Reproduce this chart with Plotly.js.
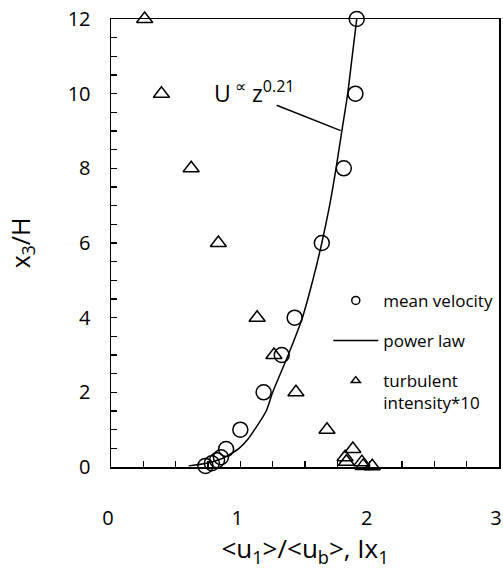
<!DOCTYPE html>
<html><head><meta charset="utf-8">
<script src="https://cdn.plot.ly/plotly-3.0.1.min.js"></script>
<style>html,body{margin:0;padding:0;background:#fff}</style>
</head><body>
<div id="chart" style="width:503px;height:573px"></div>
<script>
// mean velocity <u1>/<ub> vs x3/H
const meanVelX = [0.73, 0.78, 0.82, 0.85, 0.89, 1.00, 1.18, 1.32, 1.42, 1.63, 1.80, 1.89, 1.90];
const meanVelY = [0.03, 0.10, 0.18, 0.26, 0.48, 1, 2, 3, 4, 6, 8, 10, 12];
// turbulent intensity * 10
const turbX = [2.02, 1.95, 1.94, 1.82, 1.81, 1.87, 1.67, 1.43, 1.26, 1.13, 0.83, 0.62, 0.39, 0.26];
const turbY = [0.02, 0.03, 0.13, 0.14, 0.26, 0.48, 1, 2, 3, 4, 6, 8, 10, 12];
// power law curve
const powerX = [0.60, 0.74, 0.84, 0.90, 0.99, 1.06, 1.11, 1.20, 1.25, 1.37, 1.48, 1.56, 1.63, 1.69, 1.74, 1.785, 1.83, 1.865, 1.90];
const powerY = [0.03, 0.1, 0.2, 0.3, 0.5, 0.75, 1, 1.5, 2, 3, 4, 5, 6, 7, 8, 9, 10, 11, 12];
const xTicks = [0, 1, 2, 3];
const yTicks = [0, 2, 4, 6, 8, 10, 12];
const legendNames = ['mean velocity', 'power law', 'turbulent<br>intensity*10'];

const FONT = '"Open Sans", "Liberation Sans", sans-serif';

const traces = [
  {x: powerX, y: powerY, mode: 'lines', line: {color: '#000', width: 1.5, shape: 'spline', smoothing: 0.8},
   showlegend: false, cliponaxis: false, hoverinfo: 'skip'},
  {x: meanVelX, y: meanVelY, mode: 'markers',
   marker: {symbol: 'circle-open', size: 15, color: '#000', line: {width: 1.5}},
   showlegend: false, cliponaxis: false},
  {x: turbX, y: turbY, mode: 'markers',
   marker: {symbol: 'triangle-up-open', size: 14, color: '#000', line: {width: 1.5}},
   showlegend: false, cliponaxis: false},
  // legend entries
  {x: [null], y: [null], mode: 'markers', name: legendNames[0], legendgroup: 'a',
   marker: {symbol: 'circle-open', size: 8, color: '#000', line: {width: 1.5}}},
  {x: [null], y: [null], mode: 'lines', name: legendNames[1], legendgroup: 'b',
   line: {color: '#000', width: 1.5}},
  {x: [null], y: [null], mode: 'markers', name: legendNames[2], legendgroup: 'c',
   marker: {symbol: 'triangle-up-open', size: 8, color: '#000', line: {width: 1.5}}}
];

const layout = {
  width: 503, height: 573,
  margin: {l: 111, r: 4, t: 19, b: 106},
  paper_bgcolor: '#fff', plot_bgcolor: '#fff',
  font: {family: FONT, color: '#000', size: 20},
  showlegend: true,
  legend: {x: 0.56, y: 0.411, xanchor: 'left', yanchor: 'top', bgcolor: 'rgba(0,0,0,0)',
           font: {size: 17, family: FONT, color: '#000'}, itemwidth: 45, tracegroupgap: 15,
           valign: 'top', traceorder: 'grouped'},
  xaxis: {
    range: [0, 3], tickvals: xTicks, ticktext: xTicks.map(String),
    ticks: 'inside', ticklen: 6, tickwidth: 1.3, tickcolor: '#000',
    minor: {dtick: 0.25, ticks: 'inside', ticklen: 6, tickwidth: 1.3, tickcolor: '#000'},
    showline: true, linecolor: '#000', linewidth: 1.5, mirror: true,
    showgrid: false, zeroline: false, ticklabelstandoff: 32, ticklabelshift: -3,
    ticklabeloverflow: 'allow',
    tickfont: {size: 20, family: FONT},
    title: {text: '<u<sub>1</sub>>/<u<sub>b</sub>>, Ix<sub>1</sub>', font: {size: 26, family: FONT}, standoff: 4}
  },
  yaxis: {
    range: [0, 12], tickvals: yTicks, ticktext: yTicks.map(String),
    ticks: 'inside', ticklen: 6, tickwidth: 1.3, tickcolor: '#000',
    minor: {dtick: 0.5, ticks: 'inside', ticklen: 6, tickwidth: 1.3, tickcolor: '#000'},
    showline: true, linecolor: '#000', linewidth: 1.5, mirror: true,
    showgrid: false, zeroline: false, ticklabelstandoff: 15,
    tickfont: {size: 20, family: FONT},
    title: {text: 'x<sub>3</sub>/H', font: {size: 25, family: FONT}, standoff: 30}
  },
  annotations: [
    {x: 1.11, y: 10.05, xref: 'x', yref: 'y', text: 'U<sup> ∝</sup> z<sup>0.21</sup>', showarrow: false,
     font: {size: 23, family: FONT}, xanchor: 'center', yanchor: 'middle'}
  ],
  shapes: [
    {type: 'line', xref: 'x', yref: 'y', x0: 1.281, y0: 9.69, x1: 1.776, y1: 9.01,
     line: {color: '#000', width: 1.5}}
  ]
};

Plotly.newPlot('chart', traces, layout, {displayModeBar: false, staticPlot: true});
</script>
</body></html>
